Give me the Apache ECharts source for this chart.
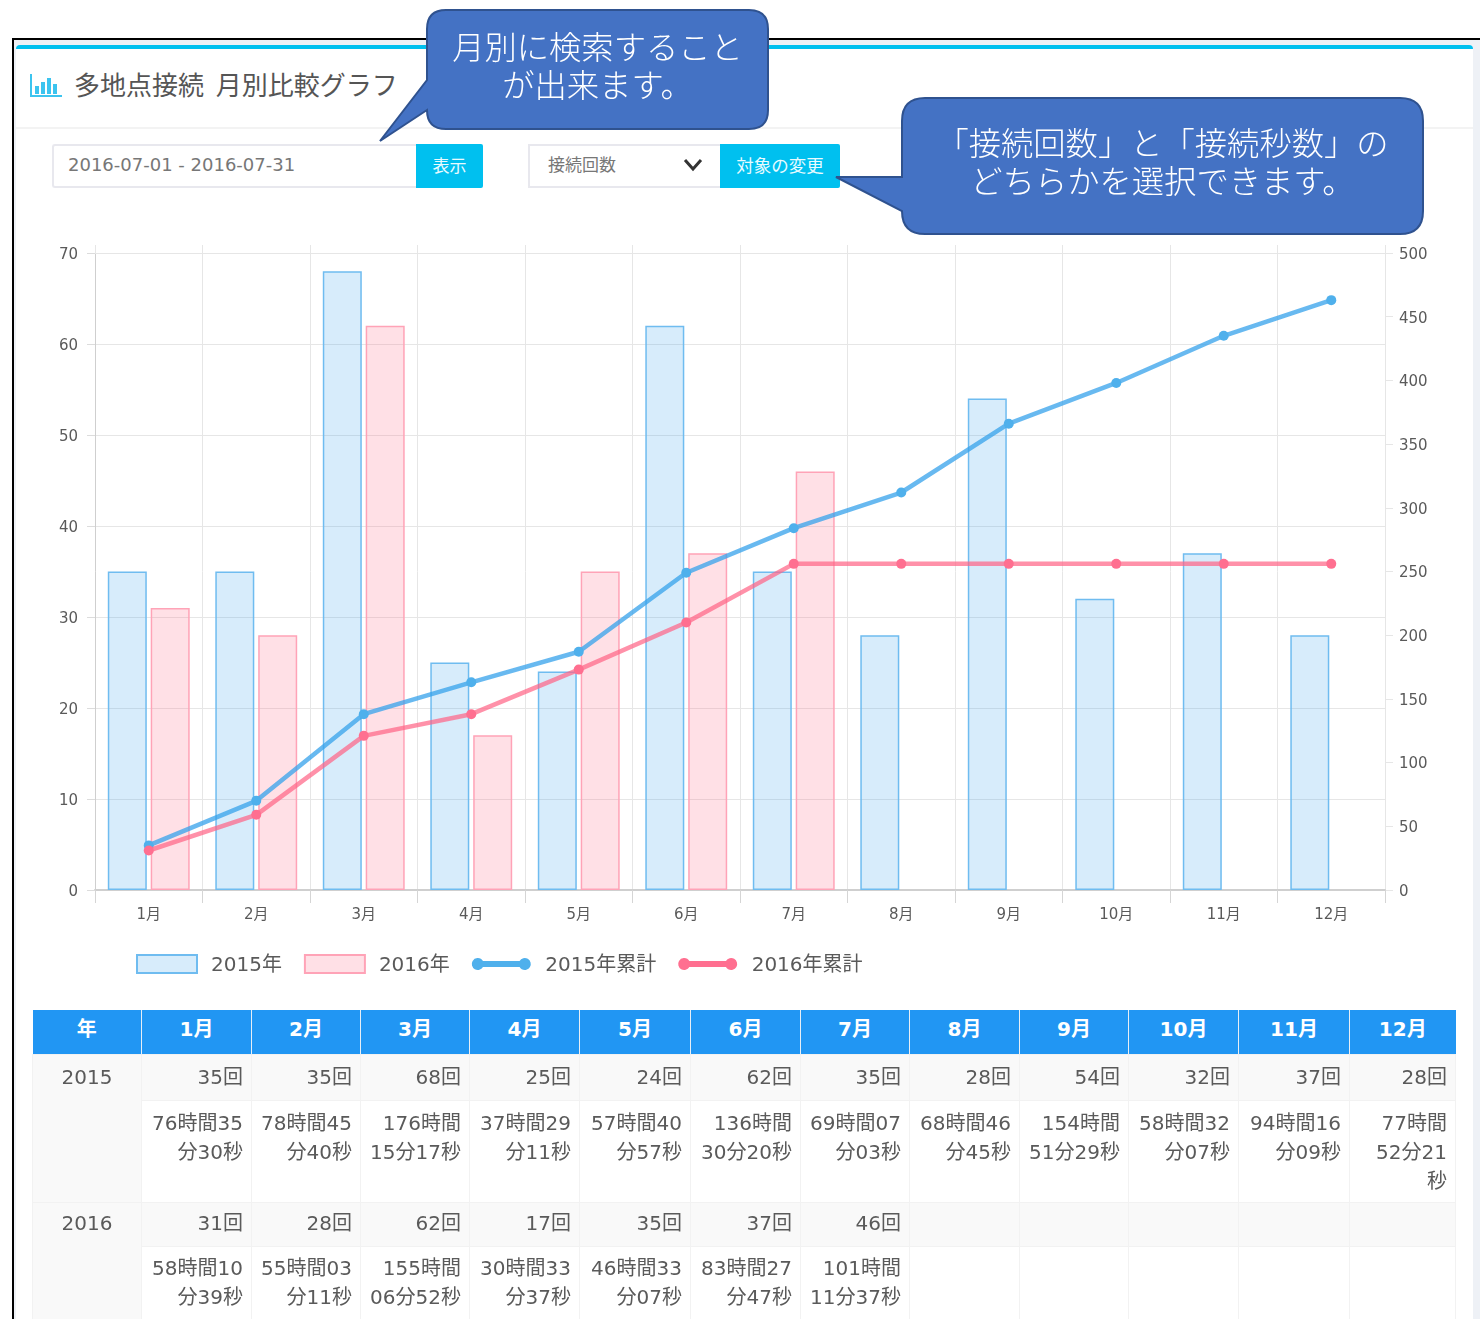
<!DOCTYPE html>
<html lang="ja"><head><meta charset="utf-8">
<script src="https://cdn.jsdelivr.net/npm/echarts@6/dist/echarts.min.js"></script>
<style>
html,body{margin:0;padding:0;background:#fff;width:1480px;height:1319px;overflow:hidden}
body{position:relative;font-family:"DejaVu Sans","Noto Sans CJK JP",sans-serif;color:#666}
.abs{position:absolute;box-sizing:border-box}
#soft{position:absolute;left:0;top:0;width:1480px;height:1319px;filter:blur(.55px)}
#chart{position:absolute;left:0;top:0;width:1480px;height:1319px}
table{position:absolute;left:32px;top:1010px;border-collapse:collapse;table-layout:fixed;width:1423px;font-size:20px;line-height:29px;color:#5a5a5a}
th{background:#2196F3;color:#fff;height:44px;padding:0 0 5px;box-sizing:border-box;text-align:center;border-left:1px solid #e8eef5;font-weight:bold;font-size:20px}
th:first-child{border-left:none}
td{border:1px solid #f2f2f2;padding:8px 8px;text-align:right;vertical-align:top;box-sizing:border-box;white-space:nowrap;overflow:hidden}
td.yr{text-align:center;background:#f9f9f9}
tr.cnt td{background:#f9f9f9;height:46px}
tr.cnt.second td{padding-top:6px;height:44px}
tr.tim td{background:#fff;padding-bottom:0}
tr.tim.second td{padding-top:7px}
tr.tim td.yr{background:#f9f9f9}
.callout{position:absolute;color:#fff;font-family:"Noto Sans CJK JP",sans-serif;font-size:32.3px;line-height:38px;text-align:center;font-weight:300;white-space:nowrap}
</style></head><body>
<div id="soft">
  <div class="abs" style="left:14px;top:40px;width:1466px;height:1279px;background:#eef1f6"></div>
  <div class="abs" style="left:16px;top:45px;width:1457px;height:1274px;background:#fff;border-top:4px solid #00c0ef;border-radius:4px 4px 0 0"></div>
  <div class="abs" style="left:16px;top:127px;width:1457px;height:2px;background:#f3f3f3"></div>
  <svg class="abs" style="left:30px;top:73px" width="33" height="25" viewBox="0 0 33 25">
    <path d="M1 1V23H32" fill="none" stroke="#3cc4ef" stroke-width="2"/>
    <rect x="5" y="13" width="4" height="8" fill="#3cc4ef"/><rect x="11" y="9" width="4" height="12" fill="#3cc4ef"/>
    <rect x="17" y="5" width="4" height="16" fill="#3cc4ef"/><rect x="23" y="11" width="4" height="10" fill="#3cc4ef"/>
  </svg>
  <div class="abs" id="title" style="left:74px;top:65px;font-size:26px;line-height:38px;color:#555;font-family:'Noto Sans CJK JP',sans-serif;white-space:pre"></div>
  <div class="abs" style="left:52px;top:144px;width:365px;height:44px;border:2px solid #e8e8ee;border-right:none;border-radius:3px 0 0 3px;background:#fff;color:#777;font-size:18px;line-height:38px;padding-left:14px">2016-07-01 - 2016-07-31</div>
  <div class="abs" style="left:416px;top:144px;width:67px;height:44px;background:#00c0ef;color:#e8fbff;font-size:17px;line-height:41px;text-align:center;font-family:'Noto Sans CJK JP',sans-serif;border-radius:0 2px 2px 0">表示</div>
  <div class="abs" style="left:528px;top:144px;width:193px;height:44px;border:2px solid #e8e8ee;border-right:none;background:#fff;color:#777;font-size:17px;line-height:36px;padding-left:18px;font-family:'Noto Sans CJK JP',sans-serif">接続回数</div>
  <svg class="abs" style="left:683px;top:158px" width="20" height="14"><path d="M2 2L10 11L18 2" fill="none" stroke="#333" stroke-width="3"/></svg>
  <div class="abs" style="left:720px;top:144px;width:120px;height:44px;background:#00c0ef;color:#e8fbff;font-size:17.5px;line-height:41px;text-align:center;font-family:'Noto Sans CJK JP',sans-serif;border-radius:0 2px 2px 0">対象の変更</div>
  <div id="chart"></div>
  <table id="tbl"></table>
</div>
<div class="abs" style="left:12px;top:38px;width:1468px;height:2px;background:#000"></div>
<div class="abs" style="left:12px;top:38px;width:2px;height:1281px;background:#000"></div>
<svg class="abs" style="left:0;top:0" width="1480" height="300">
  <path d="M446 10H749Q768 10 768 29V110Q768 129 749 129H446Q427 129 427 110V110L380 141L427 80V29Q427 10 446 10Z" fill="#4472C4" stroke="#2F528F" stroke-width="2"/>
  <path d="M925 98H1400Q1423 98 1423 121V211Q1423 234 1400 234H925Q902 234 902 211L836 177H902V121Q902 98 925 98Z" fill="#4472C4" stroke="#2F528F" stroke-width="2"/>
</svg>
<div class="callout" style="left:427px;width:341px;top:26px">月別に検索すること<br>が出来ます。</div>
<div class="callout" style="left:902px;width:521px;top:122px">「接続回数」と「接続秒数」の<br>どちらかを選択できます。</div>
<script>
const titleText = "多地点接続  月別比較グラフ";
const categories = ["1月","2月","3月","4月","5月","6月","7月","8月","9月","10月","11月","12月"];
const count2015 = [35,35,68,25,24,62,35,28,54,32,37,28];
const count2016 = [31,28,62,17,35,37,46];
const cumulative2015 = [35,70,138,163,187,249,284,312,366,398,435,463];
const cumulative2016 = [31,59,121,138,173,210,256,256,256,256,256,256];
const time2015 = ["76時間35<br>分30秒","78時間45<br>分40秒","176時間<br>15分17秒","37時間29<br>分11秒","57時間40<br>分57秒","136時間<br>30分20秒","69時間07<br>分03秒","68時間46<br>分45秒","154時間<br>51分29秒","58時間32<br>分07秒","94時間16<br>分09秒","77時間<br>52分21<br>秒"];
const time2016 = ["58時間10<br>分39秒","55時間03<br>分11秒","155時間<br>06分52秒","30時間33<br>分37秒","46時間33<br>分07秒","83時間27<br>分47秒","101時間<br>11分37秒"];
const leftTicksMax = 70, rightTicksMax = 500;
const names = ["2015年","2016年","2015年累計","2016年累計"];
const columnWidths = [109,110,109,109,110,111,110,109,110,109,110,111,106];

document.getElementById('title').textContent = titleText;
const cell = (v)=>`<td>${v===undefined?'':v}</td>`;
let html = '<colgroup>'+columnWidths.map(w=>`<col style="width:${w}px">`).join('')+'</colgroup>';
html += '<tr><th>年</th>'+categories.map(c=>`<th>${c}</th>`).join('')+'</tr>';
[[2015,count2015,time2015],[2016,count2016,time2016]].forEach(([y,c,t],i)=>{
  const cls = i===1?' second':'';
  html += `<tr class="cnt${cls}"><td class="yr" rowspan="2">${y}</td>`+categories.map((_,k)=>cell(c[k]===undefined?undefined:c[k]+'回')).join('')+'</tr>';
  html += `<tr class="tim${cls}" style="height:${i===0?102:120}px">`+categories.map((_,k)=>cell(t[k])).join('')+'</tr>';
});
document.getElementById('tbl').innerHTML = html;

const font = '"DejaVu Sans","Noto Sans CJK JP",sans-serif';
const dumbbell = 'path://M30 0L30.01 0L30 .01ZM30 18L30.01 18L30 17.99ZM6 3A6 6 0 0 1 11.7 6H48.3A6 6 0 1 1 48.3 12H11.7A6 6 0 1 1 6 3Z';
const chart = echarts.init(document.getElementById('chart'), null, {renderer:'canvas'});
const lineStyleAxis = {color:'#e6e6e6',width:1};
const valueLabelRich = {v:{fontFamily:font,fontSize:15,color:'#5a5a5a',padding:[4,0,0,0]}};
chart.setOption({
  animation:false,
  backgroundColor:'transparent',
  grid:{left:95,top:253,width:1290,height:637,containLabel:false},
  legend:{
    left:131,top:949,itemWidth:60,itemHeight:18,itemGap:22,
    formatter:(n)=>`{t|${n}}`,
    textStyle:{rich:{t:{fontFamily:font,fontSize:20,color:'#5a5a5a',padding:[4,0,0,9]}}},
    data:[
      {name:names[0],icon:'rect'},{name:names[1],icon:'rect'},
      {name:names[2],icon:dumbbell},{name:names[3],icon:dumbbell}
    ]
  },
  xAxis:[
    {type:'category',data:categories,position:'bottom',
     axisLine:{lineStyle:{color:'#cfcfcf',width:2}},
     axisTick:{show:true,interval:0,length:13,lineStyle:{color:'#d5d5d5'}},
     axisLabel:{interval:0,fontFamily:font,fontSize:15,color:'#5a5a5a',margin:18},
     splitLine:{show:true,interval:0,lineStyle:lineStyleAxis}},
    {type:'category',data:categories,position:'top',
     axisLine:{show:true,onZero:false,lineStyle:{color:'#e6e6e6'}},
     axisTick:{show:true,interval:0,length:8,lineStyle:lineStyleAxis},
     axisLabel:{show:false},splitLine:{show:false}}
  ],
  yAxis:[
    {type:'value',min:0,max:leftTicksMax,interval:10,position:'left',
     axisLine:{show:true,lineStyle:{color:'#cfcfcf'}},
     axisTick:{show:true,length:8,lineStyle:{color:'#dcdcdc'}},
     axisLabel:{formatter:'{v|{value}}',rich:valueLabelRich,margin:17},
     splitLine:{show:true,lineStyle:lineStyleAxis}},
    {type:'value',min:0,max:rightTicksMax,interval:50,position:'right',
     axisLine:{show:true,lineStyle:lineStyleAxis},
     axisTick:{show:true,length:8,lineStyle:lineStyleAxis},
     axisLabel:{formatter:'{v|{value}}',rich:valueLabelRich,margin:14},
     splitLine:{show:false}}
  ],
  series:[
    {name:names[0],type:'bar',data:count2015,barWidth:39,barGap:'10%',
     itemStyle:{color:'rgba(54,162,235,0.2)',borderColor:'#6fbcf0',borderWidth:1.5}},
    {name:names[1],type:'bar',data:count2016,barWidth:39,barGap:'10%',
     itemStyle:{color:'rgba(255,99,132,0.2)',borderColor:'#ffa3b7',borderWidth:1.5}},
    {name:names[2],type:'line',yAxisIndex:1,data:cumulative2015,smooth:false,symbol:'circle',symbolSize:10,
     lineStyle:{color:'rgba(54,162,235,0.75)',width:4.5},itemStyle:{color:'#4fb0ec',borderColor:'#4fb0ec',borderWidth:0},z:5},
    {name:names[3],type:'line',yAxisIndex:1,data:cumulative2016,smooth:false,symbol:'circle',symbolSize:10,
     lineStyle:{color:'rgba(255,99,132,0.7)',width:4.5},itemStyle:{color:'#ff6f90',borderColor:'#ff6f90',borderWidth:0},z:6}
  ]
});
</script>
</body></html>
